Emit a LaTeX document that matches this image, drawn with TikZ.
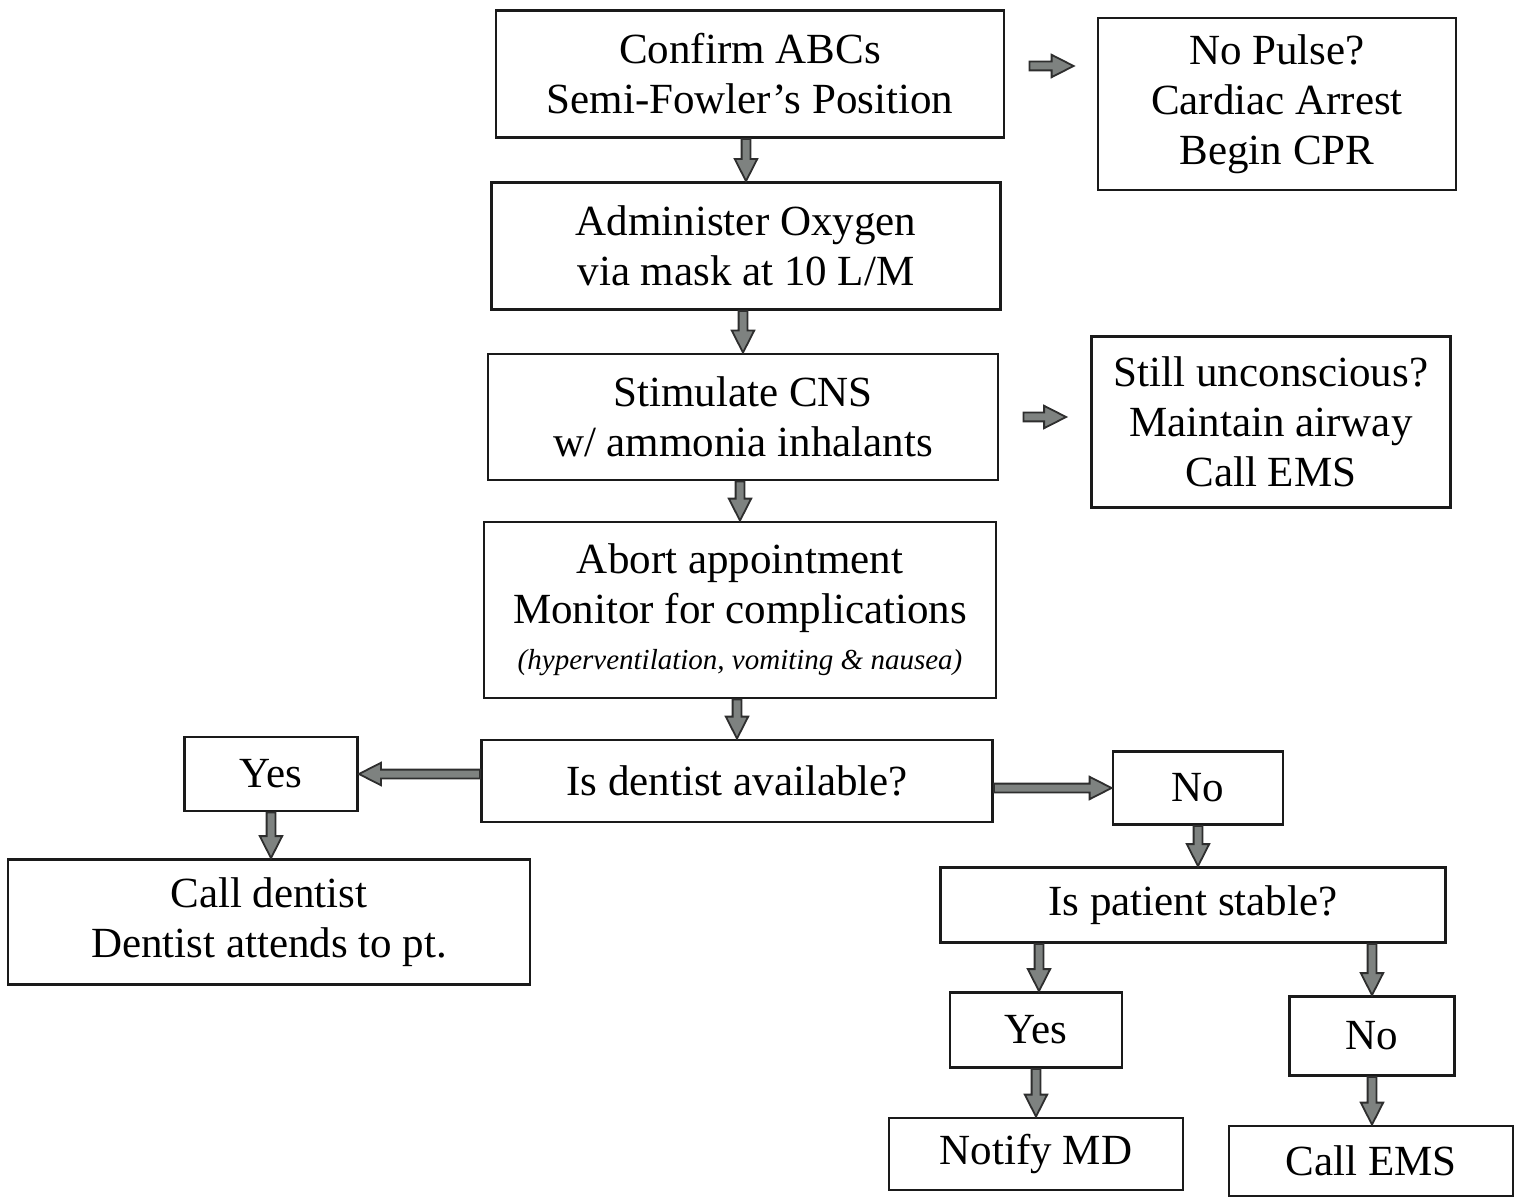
\documentclass[tikz,border=0pt]{standalone}
\usepackage{fontspec}
\setmainfont{Liberation Serif}
\usetikzlibrary{calc}
\definecolor{arrowfill}{HTML}{7E8280}
\definecolor{arrowline}{HTML}{2E2E2E}
\definecolor{boxline}{HTML}{1A1A1A}
\tikzset{
  box/.style={draw=boxline, line width=1.4pt, inner sep=0pt, align=center,
    font=\fontsize{21.5}{25}\selectfont},
  % filled block arrow from the start point to the target point
  blockarrow/.style={fill=arrowfill, draw=arrowline, line width=0.9pt, line join=miter,
    to path={let \p1=(\tikztostart), \p2=(\tikztotarget),
      \n1={veclen(\x2-\x1,\y2-\y1)}, \n2={atan2(\y2-\y1,\x2-\x1)} in
      {[shift={(\p1)}, rotate=\n2]
        (0pt,-2.2pt) -- ({\n1*1pt-11pt},-2.2pt) -- ({\n1*1pt-11pt},-5.6pt)
        -- ({\n1*1pt},0pt) -- ({\n1*1pt-11pt},5.6pt) -- ({\n1*1pt-11pt},2.2pt)
        -- (0pt,2.2pt) -- cycle}}},
}
\begin{document}
\begin{tikzpicture}[x=0.5pt,y=-0.5pt]
\useasboundingbox (0,0) rectangle (1522,1198);

% main column
\node[box, minimum width=254pt, minimum height=63.5pt] (abc) at (750,74)
  {Confirm ABCs\\Semi-Fowler's Position};
\node[box, minimum width=254.5pt, minimum height=63.5pt] (oxy) at (746,246)
  {Administer Oxygen\\via mask at 10 L/M};
\node[box, minimum width=255pt, minimum height=63pt] (cns) at (743,417)
  {Stimulate CNS\\w/ ammonia inhalants};
\node[box, minimum width=256pt, minimum height=88pt] (abort) at (740,610)
  {Abort appointment\\Monitor for complications\\[-2pt]
   {\fontsize{14.5}{17}\selectfont\itshape (hyperventilation, vomiting \& nausea)}};
\node[box, minimum width=255.5pt, minimum height=41pt] (dent) at (737,781)
  {Is dentist available?};

% side boxes
\node[box, minimum width=179pt, minimum height=86pt] (pulse) at (1277,104)
  {No Pulse?\\Cardiac Arrest\\Begin CPR};
\node[box, minimum width=179.5pt, minimum height=85.5pt] (uncon) at (1271,422)
  {Still unconscious?\\Maintain airway\\Call EMS};

% dentist available branch
\node[box, minimum width=86.5pt, minimum height=37pt] (yes1) at (271,774) {Yes};
\node[box, minimum width=261pt, minimum height=62.5pt] (calld) at (269,922)
  {Call dentist\\Dentist attends to pt.};

% dentist not available branch
\node[box, minimum width=85pt, minimum height=36.5pt] (no1) at (1198,788) {No};
\node[box, minimum width=252.5pt, minimum height=37.5pt] (stable) at (1193,905)
  {Is patient stable?};
\node[box, minimum width=86pt, minimum height=37.5pt] (yes2) at (1036,1030) {Yes};
\node[box, minimum width=82.5pt, minimum height=39.5pt] (no2) at (1372,1036) {No};
\node[box, minimum width=147pt, minimum height=36pt] (notify) at (1036,1154) {Notify MD};
\node[box, minimum width=142pt, minimum height=35pt] (ems) at (1371,1161) {Call EMS};

% free-standing side arrows
\coordinate (p1s) at ([xshift=12pt,yshift=4pt]abc.east);
\coordinate (p1e) at ([xshift=-11.5pt]pulse.west |- p1s);
\coordinate (p2s) at ([xshift=12pt]cns.east);
\coordinate (p2e) at ([xshift=-12pt]uncon.west |- p2s);

% connectors
\draw[blockarrow] (oxy.north |- abc.south) to (oxy.north);
\draw[blockarrow] (cns.north |- oxy.south) to (cns.north);
\draw[blockarrow] (abort.north |- cns.south) to (abort.north);
\draw[blockarrow] (dent.north |- abort.south) to (dent.north);
\draw[blockarrow] (p1s) to (p1e);
\draw[blockarrow] (p2s) to (p2e);
\draw[blockarrow] (dent.west |- yes1.east) to (yes1.east);
\draw[blockarrow] (dent.east |- no1.west) to (no1.west);
\draw[blockarrow] (yes1.south) to (yes1.south |- calld.north);
\draw[blockarrow] (no1.south) to (no1.south |- stable.north);
\draw[blockarrow] ([xshift=1.5pt]yes2.north |- stable.south) to ([xshift=1.5pt]yes2.north);
\draw[blockarrow] (no2.north |- stable.south) to (no2.north);
\draw[blockarrow] (yes2.south) to (notify.north);
\draw[blockarrow] (no2.south) to (no2.south |- ems.north);
\end{tikzpicture}
\end{document}
